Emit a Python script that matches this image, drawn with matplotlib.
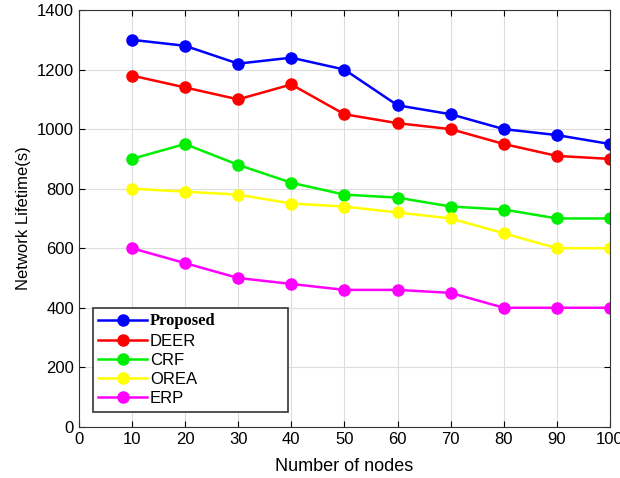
import matplotlib.pyplot as plt

plt.rcParams['font.family'] = ['Liberation Sans', 'DejaVu Sans']

nodes = [10, 20, 30, 40, 50, 60, 70, 80, 90, 100]
proposed = [1300, 1280, 1220, 1240, 1200, 1080, 1050, 1000, 980, 950]
deer = [1180, 1140, 1100, 1150, 1050, 1020, 1000, 950, 910, 900]
crf = [900, 950, 880, 820, 780, 770, 740, 730, 700, 700]
orea = [800, 790, 780, 750, 740, 720, 700, 650, 600, 600]
erp = [600, 550, 500, 480, 460, 460, 450, 400, 400, 400]

series = [
    ('Proposed', proposed, '#0000ff'),
    ('DEER', deer, '#ff0000'),
    ('CRF', crf, '#00ee00'),
    ('OREA', orea, '#ffff00'),
    ('ERP', erp, '#ff00ff'),
]

fig = plt.figure(figsize=(6.2, 4.78), dpi=100)
ax = fig.add_axes([0.127, 0.107, 0.857, 0.872])

for name, vals, col in series:
    ax.plot(nodes, vals, color=col, marker='o', markersize=8, linewidth=1.8, label=name)

ax.set_xlim(0, 100)
ax.set_ylim(0, 1400)
ax.set_xticks(range(0, 101, 10))
ax.set_yticks(range(0, 1401, 200))
ax.grid(True, color='#dddddd', linewidth=0.8)
ax.tick_params(direction='in', top=True, right=True, labelsize=12, length=4)
for s in ax.spines.values():
    s.set_color('#333333')

ax.set_xlabel('Number of nodes', fontsize=13, labelpad=8)
ax.set_ylabel('Network Lifetime(s)', fontsize=12)

leg = ax.legend(loc='lower left', bbox_to_anchor=(0.026, 0.036, 0.367, 0.24), mode='expand',
                borderaxespad=0, fontsize=12, fancybox=False, edgecolor='#333333', framealpha=1,
                handlelength=2.9, borderpad=0.35, labelspacing=0.25, handletextpad=0.2)
leg.get_frame().set_linewidth(1.2)
leg.get_texts()[0].set_family('Liberation Serif')
leg.get_texts()[0].set_fontweight('bold')

plt.savefig('out.png')
